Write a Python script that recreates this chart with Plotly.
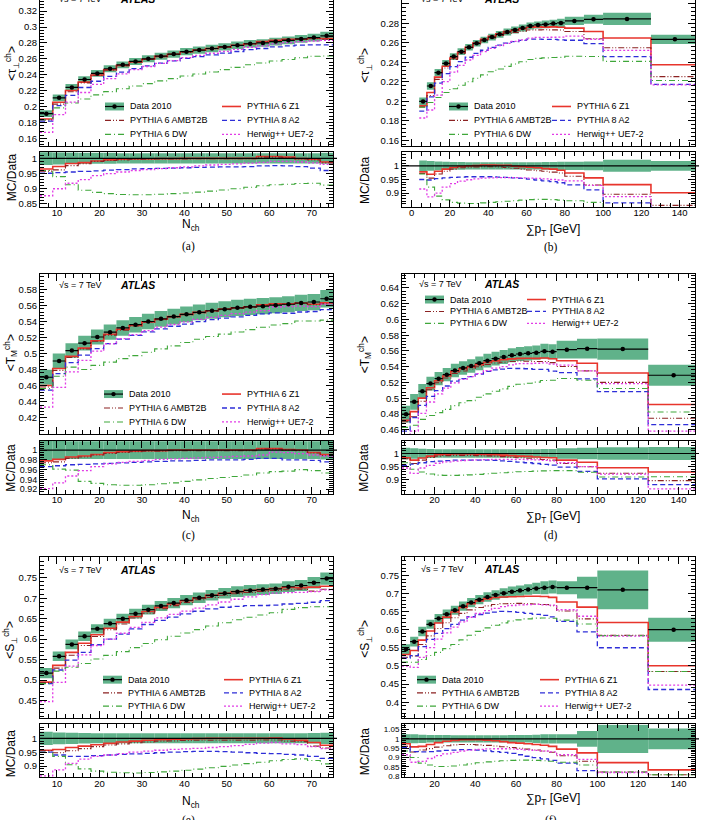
import plotly.graph_objects as go

# ---------------- data ----------------
NCH_EDGES = [6, 9, 12, 15, 18, 21, 24, 27, 30, 33, 36, 39, 42, 45, 48, 51, 54, 57, 60, 63, 66, 69, 72, 75]
SPT_EDGES = [4, 8, 12, 16, 20, 24, 28, 32, 36, 40, 44, 48, 52, 56, 60, 64, 68, 72, 76, 80, 90, 100, 125, 150]

MODELS = ["PYTHIA 6 Z1", "PYTHIA 6 AMBT2B", "PYTHIA 8 A2", "PYTHIA 6 DW", "Herwig++ UE7-2"]

# (a) <tau_perp> vs Nch
A_DATA = [0.191, 0.211, 0.224, 0.234, 0.2417, 0.2475, 0.2525, 0.2567, 0.260, 0.2633, 0.266, 0.269,
          0.271, 0.273, 0.275, 0.277, 0.279, 0.280, 0.2817, 0.2833, 0.285, 0.2867, 0.289]
A_ERR = [0.022, 0.02, 0.019, 0.018, 0.018, 0.018, 0.017, 0.017, 0.017, 0.017, 0.017, 0.017,
         0.017, 0.017, 0.017, 0.017, 0.017, 0.017, 0.017, 0.017, 0.017, 0.017, 0.018]
A_Z1 = [0.965, 0.973, 0.983, 0.986, 0.991, 0.995, 0.997, 0.998, 0.998, 0.999, 0.999, 1.0,
        1.0, 1.0, 1.0, 1.0, 1.0, 1.006, 1.006, 1.004, 0.999, 0.997, 0.988]
A_AMBT2B = [0.958, 0.962, 0.976, 0.982, 0.99, 0.993, 0.995, 0.996, 0.997, 0.998, 0.998, 0.998,
            0.999, 0.999, 0.999, 0.999, 0.999, 1.004, 1.004, 1.002, 0.998, 0.995, 0.985]
A_A2 = [0.951, 0.953, 0.955, 0.957, 0.959, 0.961, 0.963, 0.965, 0.966, 0.967, 0.968, 0.969,
        0.97, 0.971, 0.972, 0.972, 0.973, 0.975, 0.976, 0.975, 0.973, 0.968, 0.96]
A_DW = [0.96, 0.94, 0.913, 0.895, 0.888, 0.884, 0.881, 0.88, 0.88, 0.882, 0.884, 0.886,
        0.889, 0.892, 0.896, 0.9, 0.905, 0.91, 0.913, 0.915, 0.917, 0.918, 0.912]
A_HERWIG = [0.877, 0.9, 0.918, 0.93, 0.943, 0.95, 0.955, 0.96, 0.963, 0.966, 0.969, 0.972,
            0.975, 0.978, 0.98, 0.982, 0.984, 0.987, 0.99, 0.99, 0.988, 0.985, 0.98]

# (b) <tau_perp> vs sum pT
B_DATA = [0.200, 0.2158, 0.2295, 0.239, 0.246, 0.251, 0.2555, 0.2596, 0.263, 0.266, 0.2688, 0.2712,
          0.2733, 0.2753, 0.2774, 0.2784, 0.279, 0.2798, 0.2805, 0.2825, 0.2842, 0.2846, 0.2637]
B_ERR = [0.02, 0.018, 0.016, 0.015, 0.014, 0.014, 0.013, 0.013, 0.013, 0.013, 0.013, 0.013,
         0.013, 0.013, 0.013, 0.013, 0.014, 0.014, 0.015, 0.015, 0.016, 0.022, 0.018]
B_Z1 = [0.978, 0.969, 0.98, 0.988, 0.994, 0.998, 1.0, 1.001, 1.003, 1.003, 1.002, 1.002,
        0.999, 0.997, 0.995, 0.993, 0.99, 0.988, 0.984, 0.974, 0.956, 0.931, 0.901]
B_AMBT2B = [0.972, 0.955, 0.97, 0.98, 0.988, 0.993, 0.995, 0.996, 0.997, 0.997, 0.996, 0.994,
            0.991, 0.988, 0.985, 0.982, 0.98, 0.977, 0.974, 0.962, 0.93, 0.896, 0.855]
B_A2 = [0.95, 0.948, 0.953, 0.956, 0.958, 0.959, 0.96, 0.96, 0.96, 0.96, 0.959, 0.958,
        0.956, 0.954, 0.951, 0.948, 0.945, 0.942, 0.938, 0.93, 0.912, 0.864, 0.825]
B_DW = [0.97, 0.922, 0.889, 0.875, 0.866, 0.863, 0.862, 0.862, 0.864, 0.866, 0.868, 0.87,
        0.872, 0.874, 0.876, 0.877, 0.877, 0.876, 0.874, 0.872, 0.866, 0.847, 0.84]
B_HERWIG = [0.915, 0.886, 0.9, 0.922, 0.935, 0.944, 0.949, 0.952, 0.955, 0.956, 0.957, 0.957,
            0.957, 0.956, 0.955, 0.954, 0.952, 0.95, 0.948, 0.945, 0.928, 0.887, 0.823]

# (c) <T_M> vs Nch
C_DATA = [0.4707, 0.491, 0.504, 0.5132, 0.5209, 0.527, 0.5322, 0.5363, 0.5403, 0.5436, 0.5464, 0.5492,
          0.5517, 0.5537, 0.5557, 0.5573, 0.5586, 0.5594, 0.5606, 0.5618, 0.5634, 0.5646, 0.5687]
C_ERR = [0.02, 0.019, 0.018, 0.018, 0.018, 0.018, 0.018, 0.018, 0.018, 0.018, 0.018, 0.018,
         0.018, 0.018, 0.018, 0.018, 0.018, 0.018, 0.018, 0.018, 0.018, 0.018, 0.019]
C_Z1 = [0.978, 0.981, 0.986, 0.988, 0.991, 0.995, 0.997, 0.998, 0.999, 0.999, 1.0, 1.0,
        1.0, 1.0, 1.0, 1.0, 1.0, 1.003, 1.003, 1.001, 1.0, 0.995, 0.991]
C_AMBT2B = [0.974, 0.976, 0.983, 0.986, 0.99, 0.993, 0.995, 0.997, 0.998, 0.998, 0.999, 0.999,
            0.999, 0.999, 0.999, 0.999, 0.999, 1.002, 1.002, 1.0, 0.999, 0.994, 0.989]
C_A2 = [0.966, 0.968, 0.97, 0.971, 0.972, 0.973, 0.974, 0.975, 0.976, 0.977, 0.978, 0.978,
        0.979, 0.98, 0.98, 0.98, 0.981, 0.983, 0.983, 0.98, 0.98, 0.979, 0.976]
C_DW = [0.97, 0.961, 0.959, 0.936, 0.932, 0.929, 0.928, 0.928, 0.929, 0.931, 0.933, 0.936,
        0.939, 0.942, 0.944, 0.946, 0.949, 0.953, 0.956, 0.957, 0.96, 0.958, 0.953]
C_HERWIG = [0.921, 0.933, 0.947, 0.958, 0.966, 0.972, 0.975, 0.977, 0.979, 0.981, 0.982, 0.983,
            0.984, 0.985, 0.986, 0.987, 0.988, 0.99, 0.996, 0.995, 0.993, 0.99, 0.988]

# (d) <T_M> vs sum pT
D_DATA = [0.48, 0.4956, 0.509, 0.5187, 0.525, 0.530, 0.5352, 0.5385, 0.541, 0.5444, 0.5478, 0.5503,
          0.5524, 0.5545, 0.5562, 0.557, 0.5579, 0.5596, 0.5592, 0.5617, 0.563, 0.5625, 0.5293]
D_ERR = [0.022, 0.02, 0.018, 0.017, 0.016, 0.016, 0.016, 0.016, 0.016, 0.016, 0.016, 0.016,
         0.016, 0.016, 0.016, 0.016, 0.016, 0.017, 0.017, 0.02, 0.022, 0.024, 0.025]
D_Z1 = [0.984, 0.975, 0.983, 0.99, 0.995, 0.997, 0.998, 0.998, 0.998, 0.997, 0.996, 0.995,
        0.994, 0.992, 0.99, 0.989, 0.987, 0.985, 0.984, 0.975, 0.967, 0.946, 0.93]
D_AMBT2B = [0.98, 0.962, 0.975, 0.985, 0.99, 0.992, 0.993, 0.993, 0.993, 0.992, 0.991, 0.99,
            0.988, 0.986, 0.984, 0.982, 0.98, 0.977, 0.975, 0.962, 0.95, 0.925, 0.897]
D_A2 = [0.955, 0.96, 0.965, 0.969, 0.971, 0.973, 0.975, 0.975, 0.975, 0.975, 0.975, 0.974,
        0.972, 0.97, 0.967, 0.965, 0.962, 0.959, 0.956, 0.948, 0.932, 0.904, 0.882]
D_DW = [0.965, 0.94, 0.93, 0.922, 0.918, 0.917, 0.917, 0.918, 0.919, 0.921, 0.923, 0.925,
        0.927, 0.929, 0.931, 0.932, 0.933, 0.934, 0.935, 0.935, 0.929, 0.911, 0.912]
D_HERWIG = [0.945, 0.925, 0.945, 0.955, 0.963, 0.968, 0.971, 0.973, 0.975, 0.976, 0.977, 0.978,
            0.978, 0.978, 0.978, 0.977, 0.976, 0.974, 0.972, 0.965, 0.95, 0.922, 0.866]

# (e) <S_perp> vs Nch
E_DATA = [0.517, 0.558, 0.587, 0.607, 0.625, 0.638, 0.650, 0.662, 0.672, 0.681, 0.688, 0.695,
          0.701, 0.707, 0.712, 0.716, 0.719, 0.721, 0.723, 0.728, 0.731, 0.738, 0.748]
E_ERR = [0.024, 0.021, 0.02, 0.019, 0.018, 0.018, 0.018, 0.018, 0.018, 0.018, 0.018, 0.018,
         0.018, 0.018, 0.018, 0.018, 0.018, 0.018, 0.018, 0.018, 0.018, 0.019, 0.02]
E_Z1 = [0.957, 0.96, 0.967, 0.972, 0.977, 0.982, 0.987, 0.99, 0.993, 0.995, 0.997, 0.998,
        0.999, 1.0, 1.0, 1.0, 1.0, 1.0, 1.001, 0.998, 0.993, 0.985, 0.975]
E_AMBT2B = [0.955, 0.948, 0.955, 0.963, 0.97, 0.976, 0.98, 0.984, 0.987, 0.99, 0.991, 0.992,
            0.993, 0.993, 0.993, 0.993, 0.993, 0.994, 0.994, 0.99, 0.988, 0.972, 0.965]
E_A2 = [0.95, 0.94, 0.935, 0.935, 0.938, 0.94, 0.942, 0.944, 0.946, 0.948, 0.95, 0.952,
        0.953, 0.953, 0.952, 0.95, 0.948, 0.946, 0.945, 0.942, 0.94, 0.935, 0.928]
E_DW = [0.95, 0.935, 0.905, 0.89, 0.882, 0.878, 0.876, 0.875, 0.877, 0.879, 0.882, 0.885,
        0.889, 0.894, 0.899, 0.904, 0.909, 0.914, 0.919, 0.924, 0.926, 0.92, 0.908]
E_HERWIG = [0.865, 0.886, 0.91, 0.925, 0.935, 0.94, 0.945, 0.95, 0.954, 0.957, 0.96, 0.962,
            0.964, 0.967, 0.97, 0.974, 0.978, 0.983, 0.985, 0.98, 0.977, 0.97, 0.963]

# (f) <S_perp> vs sum pT
F_DATA = [0.546, 0.567, 0.595, 0.615, 0.631, 0.643, 0.654, 0.665, 0.675, 0.683, 0.690, 0.696,
          0.701, 0.705, 0.708, 0.711, 0.714, 0.716, 0.718, 0.716, 0.716, 0.71, 0.60]
F_ERR = [0.025, 0.024, 0.022, 0.02, 0.02, 0.02, 0.019, 0.019, 0.019, 0.019, 0.019, 0.019,
         0.019, 0.02, 0.02, 0.02, 0.022, 0.025, 0.025, 0.025, 0.042, 0.075, 0.055]
F_Z1 = [0.974, 0.957, 0.96, 0.97, 0.98, 0.987, 0.992, 0.995, 0.995, 0.995, 0.993, 0.99,
        0.985, 0.98, 0.977, 0.974, 0.97, 0.966, 0.96, 0.945, 0.925, 0.873, 0.834]
F_AMBT2B = [0.96, 0.93, 0.94, 0.948, 0.956, 0.963, 0.968, 0.97, 0.97, 0.968, 0.965, 0.962,
            0.958, 0.954, 0.95, 0.945, 0.94, 0.935, 0.928, 0.91, 0.88, 0.823, 0.808]
F_A2 = [0.955, 0.932, 0.93, 0.932, 0.935, 0.938, 0.94, 0.942, 0.942, 0.94, 0.936, 0.932,
        0.928, 0.922, 0.915, 0.907, 0.9, 0.893, 0.885, 0.87, 0.83, 0.775, 0.725]
F_DW = [0.935, 0.9, 0.87, 0.86, 0.852, 0.852, 0.855, 0.86, 0.866, 0.872, 0.877, 0.88,
        0.883, 0.885, 0.886, 0.886, 0.885, 0.883, 0.88, 0.875, 0.86, 0.822, 0.808]
F_HERWIG = [0.915, 0.875, 0.88, 0.895, 0.91, 0.92, 0.928, 0.935, 0.94, 0.944, 0.946, 0.947,
            0.947, 0.946, 0.944, 0.941, 0.938, 0.934, 0.93, 0.915, 0.89, 0.82, 0.745]

NCH_TICKS = [10, 20, 30, 40, 50, 60, 70]
SPT_TICKS_B = [0, 20, 40, 60, 80, 100, 120, 140]
SPT_TICKS = [20, 40, 60, 80, 100, 120, 140]

# ---------------- styling / layout ----------------
W, H = 703, 820
FONT = "Liberation Sans, Arial, sans-serif"
BAND = "rgb(96,178,138)"
STYLE = {
    "PYTHIA 6 Z1": dict(color="#e8352c", width=1.6, dash="solid"),
    "PYTHIA 6 AMBT2B": dict(color="#8c2222", width=1.1, dash="6px,2px,1px,2px,1px,2px"),
    "PYTHIA 8 A2": dict(color="#2e2ed8", width=1.3, dash="5px,3px"),
    "PYTHIA 6 DW": dict(color="#3fa73a", width=1.1, dash="6px,3px,1px,3px"),
    "Herwig++ UE7-2": dict(color="#e23ce6", width=1.3, dash="2px,2px"),
}

COLS = [(40, 333), (402, 695)]
ROWS = [((0, 147), (153, 208)), ((275, 436), (443, 496)), ((560, 722), (728, 781))]

TAU = "&lt;τ<sub>⊥</sub><sup>ch</sup>&gt;"
TM = "&lt;T<sub>M</sub><sup>ch</sup>&gt;"
SP = "&lt;S<sub>⊥</sub><sup>ch</sup>&gt;"
XN = "N<sub>ch</sub>"
XS = "∑p<sub>T</sub> [GeV]"

PANELS = [
    dict(edges=NCH_EDGES, data=A_DATA, err=A_ERR, ratios=[A_Z1, A_AMBT2B, A_A2, A_DW, A_HERWIG],
         xr=[6, 75], xt=NCH_TICKS, xminor=2, yr=[0.15, 0.334], yt=[0.16, 0.18, 0.2, 0.22, 0.24, 0.26, 0.28, 0.3, 0.32],
         yminor=0.004, rr=[0.84, 1.02], rt=[0.85, 0.9, 0.95, 1.0], rminor=0.01, rfont=9.5,
         ytitle=TAU, xtitle=XN, cap="(a)", ytp=(12, 64), rtp=(12, 178), xtp=226, capy=248,
         atl=(57, 118, -1.5), leg=(105, 222, 107, 14)),
    dict(edges=SPT_EDGES, data=B_DATA, err=B_ERR, ratios=[B_Z1, B_AMBT2B, B_A2, B_DW, B_HERWIG],
         xr=[-5, 148], xt=SPT_TICKS_B, xminor=5, yr=[0.154, 0.304], yt=[0.16, 0.18, 0.2, 0.22, 0.24, 0.26, 0.28, 0.3],
         yminor=0.004, rr=[0.849, 1.05], rt=[0.9, 0.95, 1.0], rminor=0.01, rfont=9.5,
         ytitle=TAU, xtitle=XS, cap="(b)", ytp=(365, 66), rtp=(365, 181), xtp=231, capy=249,
         atl=(419, 482, -1.5), leg=(449, 552, 107, 14)),
    dict(edges=NCH_EDGES, data=C_DATA, err=C_ERR, ratios=[C_Z1, C_AMBT2B, C_A2, C_DW, C_HERWIG],
         xr=[6, 75], xt=NCH_TICKS, xminor=2, yr=[0.40, 0.60], yt=[0.42, 0.44, 0.46, 0.48, 0.5, 0.52, 0.54, 0.56, 0.58],
         yminor=0.004, rr=[0.911, 1.019], rt=[0.92, 0.94, 0.96, 0.98, 1.0], rminor=0.004, rfont=9,
         ytitle=TM, xtitle=XN, cap="(c)", ytp=(11, 355), rtp=(11, 470), xtp=519, capy=538,
         atl=(57, 118, 286), leg=(104, 222, 396, 14)),
    dict(edges=SPT_EDGES, data=D_DATA, err=D_ERR, ratios=[D_Z1, D_AMBT2B, D_A2, D_DW, D_HERWIG],
         xr=[4, 148], xt=SPT_TICKS, xminor=5, yr=[0.455, 0.658], yt=[0.46, 0.48, 0.5, 0.52, 0.54, 0.56, 0.58, 0.6, 0.62, 0.64],
         yminor=0.004, rr=[0.848, 1.048], rt=[0.9, 0.95, 1.0], rminor=0.01, rfont=9.5,
         ytitle=TM, xtitle=XS, cap="(d)", ytp=(365, 357), rtp=(364, 470), xtp=520, capy=538,
         atl=(417, 482, 285), leg=(425, 527, 301, 12)),
    dict(edges=NCH_EDGES, data=E_DATA, err=E_ERR, ratios=[E_Z1, E_AMBT2B, E_A2, E_DW, E_HERWIG],
         xr=[6, 75], xt=NCH_TICKS, xminor=2, yr=[0.406, 0.80], yt=[0.45, 0.5, 0.55, 0.6, 0.65, 0.7, 0.75],
         yminor=0.01, rr=[0.86, 1.05], rt=[0.9, 0.95, 1.0], rminor=0.01, rfont=9.5,
         ytitle=SP, xtitle=XN, cap="(e)", ytp=(10, 643), rtp=(11, 757), xtp=806, capy=825,
         atl=(57, 118, 572.5), leg=(103, 224, 683, 13.3)),
    dict(edges=SPT_EDGES, data=F_DATA, err=F_ERR, ratios=[F_Z1, F_AMBT2B, F_A2, F_DW, F_HERWIG],
         xr=[4, 148], xt=SPT_TICKS, xminor=5, yr=[0.355, 0.80], yt=[0.4, 0.45, 0.5, 0.55, 0.6, 0.65, 0.7, 0.75],
         yminor=0.01, rr=[0.795, 1.077], rt=[0.8, 0.85, 0.9, 0.95, 1.0, 1.05], rminor=0.01, rfont=8,
         ytitle=SP, xtitle=XS, cap="(f)", ytp=(365, 642), rtp=(365, 755), xtp=803, capy=825,
         atl=(419, 482, 572), leg=(417, 540, 683, 13.3)),
]


def px(x):
    return x / W


def py(y):
    return 1 - y / H


def nm(n):
    return "" if n == 1 else str(n)


def fmt(v):
    return ("%g" % v)


fig = go.Figure()
layout = dict(width=W, height=H, margin=dict(l=0, r=0, t=0, b=0), paper_bgcolor="white",
              plot_bgcolor="white", showlegend=False, barmode="overlay",
              font=dict(family=FONT, color="black"))
annotations = []
shapes = []


def axis(domain, rng, anchor, tvals, minor_dtick, labels, mirror=True, standoff=0, fsize=9.5):
    d = dict(domain=domain, range=rng, anchor=anchor, showline=True, linecolor="black", linewidth=1,
             mirror="allticks" if mirror else False, ticks="inside", ticklen=7, tickwidth=1,
             tickcolor="black", tickmode="array", tickvals=tvals,
             showticklabels=labels, tickfont=dict(family=FONT, size=fsize, color="black"),
             showgrid=False, zeroline=False,
             minor=dict(ticks="inside", ticklen=4, tickwidth=1, tickcolor="black", dtick=minor_dtick,
                        tick0=0, showgrid=False))
    if labels:
        d["ticktext"] = [fmt(v) for v in tvals]
        if standoff:
            d["ticklabelstandoff"] = standoff
    return d


for i, p in enumerate(PANELS):
    row, col = i // 2, i % 2
    (m0, m1), (r0, r1) = ROWS[row]
    c0, c1 = COLS[col]
    nm_main, nm_rat = 2 * i + 1, 2 * i + 2
    xd = [px(c0), px(c1)]
    layout["xaxis" + nm(nm_main)] = axis(xd, p["xr"], "y" + nm(nm_main), p["xt"], p["xminor"], False,
                                         mirror=(row != 0))
    layout["yaxis" + nm(nm_main)] = axis([py(m1), py(m0)], p["yr"], "x" + nm(nm_main), p["yt"], p["yminor"], True)
    layout["xaxis" + nm(nm_rat)] = axis(xd, p["xr"], "y" + nm(nm_rat), p["xt"], p["xminor"], True, standoff=-3)
    layout["yaxis" + nm(nm_rat)] = axis([py(r1), py(r0)], p["rr"], "x" + nm(nm_rat), p["rt"], p["rminor"], True,
                                        fsize=p["rfont"])

    edges = p["edges"]
    centers = [(edges[k] + edges[k + 1]) / 2 for k in range(len(edges) - 1)]
    widths = [edges[k + 1] - edges[k] for k in range(len(edges) - 1)]
    data = p["data"]
    abs_err = [d * e for d, e in zip(data, p["err"])]
    xm, ym = "x" + nm(nm_main), "y" + nm(nm_main)
    xr_, yr_ = "x" + nm(nm_rat), "y" + nm(nm_rat)

    # uncertainty bands
    fig.add_trace(go.Bar(x=centers, y=[2 * a for a in abs_err], base=[d - a for d, a in zip(data, abs_err)],
                         width=widths, marker=dict(color=BAND, line=dict(width=0)), xaxis=xm, yaxis=ym,
                         hoverinfo="skip"))
    fig.add_trace(go.Bar(x=centers, y=[2 * e for e in p["err"]], base=[1 - e for e in p["err"]],
                         width=widths, marker=dict(color=BAND, line=dict(width=0)), xaxis=xr_, yaxis=yr_,
                         hoverinfo="skip"))

    # MC predictions (main: MC values = ratio * data ; ratio panel: MC/Data)
    for name, rat in zip(MODELS, p["ratios"]):
        st = STYLE[name]
        mc = [r * d for r, d in zip(rat, data)]
        fig.add_trace(go.Scatter(x=edges, y=mc + [mc[-1]], mode="lines", line_shape="hv",
                                 line=dict(color=st["color"], width=st["width"], dash=st["dash"]),
                                 xaxis=xm, yaxis=ym, name=name))
        fig.add_trace(go.Scatter(x=edges, y=list(rat) + [rat[-1]], mode="lines", line_shape="hv",
                                 line=dict(color=st["color"], width=st["width"], dash=st["dash"]),
                                 xaxis=xr_, yaxis=yr_, name=name))

    # data points
    fig.add_trace(go.Scatter(x=centers, y=data, mode="markers",
                             marker=dict(color="black", size=4.5),
                             error_x=dict(type="data", array=[w / 2 for w in widths], width=0,
                                          thickness=1.2, color="black"),
                             xaxis=xm, yaxis=ym, name="Data 2010"))

    # line at 1 in ratio panel
    shapes.append(dict(type="line", xref="paper", yref=yr_, x0=px(c0), x1=px(c1 + 4), y0=1, y1=1,
                       line=dict(color="black", width=1.1), layer="above"))

    # titles
    annotations.append(dict(text=p["ytitle"], x=px(p["ytp"][0]), y=py(p["ytp"][1]), xref="paper", yref="paper",
                            textangle=-90, showarrow=False, font=dict(size=12, family=FONT),
                            xanchor="center", yanchor="middle"))
    annotations.append(dict(text="MC/Data", x=px(p["rtp"][0]), y=py(p["rtp"][1]), xref="paper", yref="paper",
                            textangle=-90, showarrow=False, font=dict(size=12, family=FONT),
                            xanchor="center", yanchor="middle"))
    annotations.append(dict(text=p["xtitle"], x=px((c0 + c1) / 2 + 4), y=py(p["xtp"]), xref="paper", yref="paper",
                            showarrow=False, font=dict(size=12, family=FONT), xanchor="center", yanchor="middle"))
    annotations.append(dict(text=p["cap"], x=px((c0 + c1) / 2 + 2), y=py(p["capy"]), xref="paper", yref="paper",
                            showarrow=False, font=dict(size=11.5, family="Liberation Serif, Times New Roman, serif"),
                            xanchor="center", yanchor="middle"))
    ax_, atx, aty = p["atl"]
    annotations.append(dict(text="√s = 7 TeV", x=px(ax_), y=py(aty), xref="paper", yref="paper",
                            showarrow=False, font=dict(size=9, family=FONT), xanchor="left", yanchor="middle"))
    annotations.append(dict(text="<b><i>ATLAS</i></b>", x=px(atx), y=py(aty), xref="paper", yref="paper",
                            showarrow=False, font=dict(size=10.5, family=FONT), xanchor="left", yanchor="middle"))

    # legend (drawn by hand, two columns)
    lx1, lx2, ly0, dy = p["leg"]
    order = [("Data 2010", lx1, 0), ("PYTHIA 6 Z1", lx2, 0), ("PYTHIA 6 AMBT2B", lx1, 1),
             ("PYTHIA 8 A2", lx2, 1), ("PYTHIA 6 DW", lx1, 2), ("Herwig++ UE7-2", lx2, 2)]
    sw = 19
    for name, sx, r in order:
        yy = ly0 + r * dy
        if name == "Data 2010":
            shapes.append(dict(type="rect", xref="paper", yref="paper", x0=px(sx), x1=px(sx + sw),
                               y0=py(yy + 4), y1=py(yy - 4), fillcolor=BAND, line=dict(width=0)))
            shapes.append(dict(type="line", xref="paper", yref="paper", x0=px(sx), x1=px(sx + sw),
                               y0=py(yy), y1=py(yy), line=dict(color="black", width=1.2)))
            shapes.append(dict(type="circle", xref="paper", yref="paper", x0=px(sx + sw / 2 - 2.2),
                               x1=px(sx + sw / 2 + 2.2), y0=py(yy + 2.2), y1=py(yy - 2.2),
                               fillcolor="black", line=dict(width=0)))
        else:
            st = STYLE[name]
            shapes.append(dict(type="line", xref="paper", yref="paper", x0=px(sx), x1=px(sx + sw),
                               y0=py(yy), y1=py(yy),
                               line=dict(color=st["color"], width=st["width"], dash=st["dash"])))
        annotations.append(dict(text=name, x=px(sx + sw + 4), y=py(yy), xref="paper", yref="paper",
                                showarrow=False, font=dict(size=9, family=FONT), xanchor="left",
                                yanchor="middle"))

layout["annotations"] = annotations
layout["shapes"] = shapes
fig.update_layout(**layout)
fig.write_html("out.html")
